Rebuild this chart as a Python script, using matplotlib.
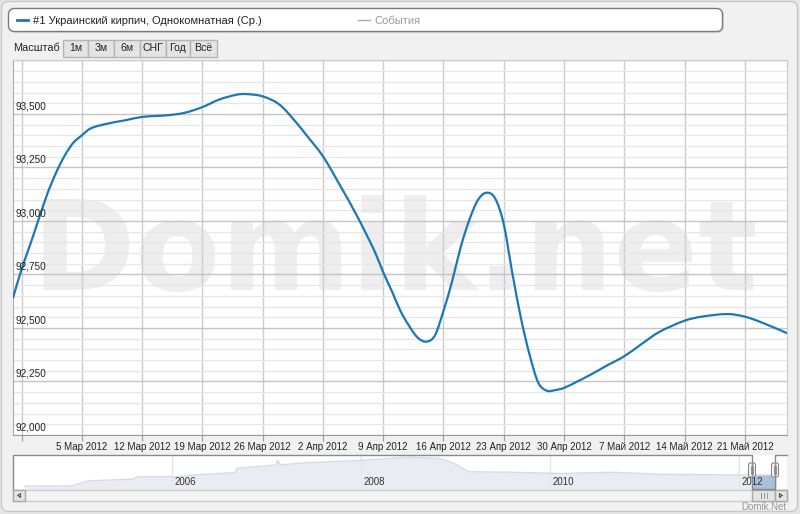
import numpy as np
import matplotlib
matplotlib.use("Agg")
import matplotlib.pyplot as plt
import matplotlib.dates as mdates
from matplotlib.patches import FancyBboxPatch, Rectangle, PathPatch
from matplotlib.path import Path
from matplotlib.ticker import MultipleLocator
from matplotlib.transforms import blended_transform_factory

plt.rcParams['font.family'] = ['Liberation Sans', 'DejaVu Sans']

# main series
dates = ["2012-02-26", "2012-02-27", "2012-02-28", "2012-02-29", "2012-03-01", "2012-03-02",
         "2012-03-03", "2012-03-04", "2012-03-05", "2012-03-06", "2012-03-08", "2012-03-10",
         "2012-03-12", "2012-03-15", "2012-03-17", "2012-03-19", "2012-03-21", "2012-03-23",
         "2012-03-24", "2012-03-26", "2012-03-28", "2012-03-30", "2012-03-31", "2012-04-02",
         "2012-04-04", "2012-04-06", "2012-04-08", "2012-04-09", "2012-04-10", "2012-04-11",
         "2012-04-12", "2012-04-13", "2012-04-14", "2012-04-15", "2012-04-16", "2012-04-17",
         "2012-04-18", "2012-04-19", "2012-04-20", "2012-04-21", "2012-04-22", "2012-04-23",
         "2012-04-24", "2012-04-25", "2012-04-26", "2012-04-27", "2012-04-28", "2012-04-29",
         "2012-04-30", "2012-05-03", "2012-05-05", "2012-05-07", "2012-05-09", "2012-05-11",
         "2012-05-14", "2012-05-16", "2012-05-19", "2012-05-21", "2012-05-23", "2012-05-26"]
prices = [92640, 92775, 92890, 93010, 93128, 93225,
          93305, 93365, 93400, 93432, 93455, 93470,
          93486, 93494, 93506, 93532, 93568, 93590,
          93593, 93582, 93542, 93455, 93405, 93302,
          93165, 93020, 92858, 92760, 92672, 92580,
          92510, 92455, 92436, 92465, 92580, 92718,
          92878, 93005, 93098, 93132, 93105, 92985,
          92755, 92545, 92375, 92245, 92207, 92210,
          92220, 92280, 92325, 92368, 92425, 92480,
          92534, 92553, 92565, 92553, 92525, 92474]

tick_dates = ["2012-02-27", "2012-03-05", "2012-03-12", "2012-03-19", "2012-03-26", "2012-04-02",
              "2012-04-09", "2012-04-16", "2012-04-23", "2012-04-30", "2012-05-07", "2012-05-14",
              "2012-05-21"]
tick_labels = ["", "5 Мар 2012", "12 Мар 2012", "19 Мар 2012", "26 Мар 2012", "2 Апр 2012",
               "9 Апр 2012", "16 Апр 2012", "23 Апр 2012", "30 Апр 2012", "7 Май 2012",
               "14 Май 2012", "21 Май 2012"]
y_ticks = [92000, 92250, 92500, 92750, 93000, 93250, 93500]

# navigator (whole history), thousands
nav_years = [2004.44, 2004.93, 2005.12, 2005.59, 2005.64, 2006.07, 2006.23, 2006.67, 2006.69,
             2007.10, 2007.12, 2007.15, 2007.42, 2007.96, 2008.50, 2008.83, 2008.98, 2009.14,
             2009.58, 2010.12, 2010.66, 2011.20, 2012.12, 2012.14, 2012.38, 2012.40]
nav_vals = [67, 67, 79, 83, 88.5, 88.5, 92.5, 98, 108,
            116, 126, 116, 121, 126, 134, 131, 120, 100,
            99, 96, 99, 94, 92.5, 92.5, 92.5, 92.5]
nav_years_ticks = [2006, 2008, 2010, 2012]
sel_from, sel_to = 2012.14, 2012.38

buttons = ["1м", "3м", "6м", "СНГ", "Год", "Всё"]
series_name = "#1 Украинский кирпич, Однокомнатная (Ср.)"


def spline_path(xs, ys):
    # smooth cubic (Hermite -> Bezier) path through the points, like a spline series
    xs = np.asarray(xs, float)
    ys = np.asarray(ys, float)
    n = len(xs)
    m = np.zeros(n)
    m[1:-1] = (ys[2:] - ys[:-2]) / (xs[2:] - xs[:-2])
    m[0] = (ys[1] - ys[0]) / (xs[1] - xs[0])
    m[-1] = (ys[-1] - ys[-2]) / (xs[-1] - xs[-2])
    verts = [(xs[0], ys[0])]
    codes = [Path.MOVETO]
    for i in range(n - 1):
        h = xs[i + 1] - xs[i]
        verts += [(xs[i] + h / 3, ys[i] + m[i] * h / 3),
                  (xs[i + 1] - h / 3, ys[i + 1] - m[i + 1] * h / 3),
                  (xs[i + 1], ys[i + 1])]
        codes += [Path.CURVE4] * 3
    return Path(verts, codes)


W, H = 800, 514
fig = plt.figure(figsize=(8, 5.14), dpi=100)
fig.patch.set_facecolor('#e6e6e6')

# background / chrome layer in pixel coordinates
bg = fig.add_axes([0, 0, 1, 1])
bg.set_xlim(0, W)
bg.set_ylim(H, 0)
bg.axis('off')
bg.add_patch(FancyBboxPatch((1.5, 1.5), 796, 510, boxstyle='round,pad=0,rounding_size=7',
                            fc='#f1f1f1', ec='#c8c8c8', lw=1))

# legend box
bg.add_patch(FancyBboxPatch((10, 10), 714, 23, boxstyle='round,pad=0,rounding_size=6',
                            fc='#d8d8d8', ec='none'))
bg.add_patch(FancyBboxPatch((8.5, 8.5), 714, 23, boxstyle='round,pad=0,rounding_size=6',
                            fc='white', ec='#7a7a7a', lw=1))
bg.plot([17, 28], [20, 20], color='#1b78b4', lw=2)
bg.text(33, 20.5, series_name, fontsize=8, color='#222222', va='center', ha='left')
bg.plot([358, 370], [20, 20], color='#aaaaaa', lw=1)
bg.text(374, 20.5, "События", fontsize=8, color='#999999', va='center', ha='left')

# range selector
bg.text(13, 48, "Масштаб", fontsize=7.8, color='#222222', va='center', ha='left')
edges = [63, 88, 114, 140, 166, 190, 217]
for i, b in enumerate(buttons):
    bg.add_patch(Rectangle((edges[i], 39.5), edges[i + 1] - edges[i], 17, fc='#e4e4e4',
                           ec='#b4b4b4', lw=1))
    bg.text((edges[i] + edges[i + 1]) / 2, 48, b, fontsize=7.6, color='#222222',
            va='center', ha='center')

# main chart
ax = fig.add_axes([13 / W, 1 - 435 / H, 774 / W, 375 / H])
ax.set_zorder(2)
xd = mdates.date2num(np.array(dates, dtype='datetime64[D]'))
ax.add_patch(PathPatch(spline_path(xd, prices), fill=False, ec='#1b78b4', lw=1.6, zorder=3))
x0 = mdates.date2num(np.datetime64("2012-02-26"))
ax.set_xlim(x0, x0 + 774 / 8.61)
ax.set_ylim(92000, 93752)
ax.yaxis.set_major_locator(MultipleLocator(250))
ax.yaxis.set_minor_locator(MultipleLocator(50))
ax.set_xticks(mdates.date2num(np.array(tick_dates, dtype='datetime64[D]')), tick_labels)
ax.grid(which='minor', axis='y', color='#e7e7e7', lw=1)
ax.grid(which='major', axis='y', color='#c4c4c4', lw=1)
ax.grid(which='major', axis='x', color='#cbcbcb', lw=1)
ax.tick_params(axis='y', which='both', left=False, labelleft=False)
ax.tick_params(axis='x', length=4, color='#999999', pad=1, labelsize=7, labelcolor='#222222')
for s in ['top', 'right']:
    ax.spines[s].set_color('#cccccc')
ax.spines['left'].set_color('#aaaaaa')
ax.spines['bottom'].set_color('#999999')
yt = blended_transform_factory(ax.transAxes, ax.transData)
for v in y_ticks:
    ax.text(0.003, v + 12, f"{v:,}", transform=yt, fontsize=7.2, color='#222222',
            ha='left', va='bottom', zorder=4)
ax.text(0.4935, 0.387, "Domik.net", transform=ax.transAxes, fontsize=90, fontweight='bold',
        family='DejaVu Sans', color='#eeeeee', ha='center', va='baseline', zorder=0)

# navigator
nav = fig.add_axes([13 / W, 1 - 489 / H, 774 / W, 34 / H])
nav.set_zorder(2)
nav.set_facecolor('white')
ny = np.array(nav_years)
nv = np.array(nav_vals)
nav.fill_between(ny, nv, 60, color='#e9edf3', lw=0)
nav.plot(ny, nv, color='#d5dbe5', lw=1)
sel = (ny >= sel_from) & (ny <= sel_to)
nav.fill_between(ny[sel], nv[sel], 60, color='#a9bfdc', lw=0)
nav.set_xlim(2004.32, 2012.51)
nav.set_ylim(60, 139)
nav.set_xticks(nav_years_ticks)
nav.grid(axis='x', color='#e6e6e6', lw=1)
nav.tick_params(length=0, labelbottom=False, labelleft=False)
for s in nav.spines.values():
    s.set_visible(False)
nt = blended_transform_factory(nav.transData, nav.transAxes)
for yr in nav_years_ticks:
    nav.text(yr + 0.03, 0.22, str(yr), transform=nt, fontsize=7, color='#333333',
             ha='left', va='center')

# navigator outline, handles and scrollbar
ol = fig.add_axes([0, 0, 1, 1])
ol.set_zorder(3)
ol.set_xlim(0, W)
ol.set_ylim(H, 0)
ol.axis('off')
ol.plot([13, 13, 752, 752, 775, 775, 787], [489, 455, 455, 489, 489, 455, 455],
        color='#8a8a8a', lw=1)
for hx in [752, 775]:
    ol.add_patch(FancyBboxPatch((hx - 3.5, 463), 7, 14, boxstyle='round,pad=0,rounding_size=2',
                                fc='#f4f4f4', ec='#8a8a8a', lw=0.8))
    ol.plot([hx - 1, hx - 1], [466, 474], color='#8a8a8a', lw=0.6)
    ol.plot([hx + 1, hx + 1], [466, 474], color='#8a8a8a', lw=0.6)
ol.add_patch(Rectangle((13, 490), 774, 11, fc='#f3f3f3', ec='#cccccc', lw=1))
ol.add_patch(Rectangle((13, 490), 12, 11, fc='#e4e4e4', ec='#a8a8a8', lw=1))
ol.add_patch(Rectangle((752, 490), 23, 11, fc='#e4e4e4', ec='#a8a8a8', lw=1))
ol.add_patch(Rectangle((775, 490), 12, 11, fc='#e4e4e4', ec='#a8a8a8', lw=1))
ol.plot([18, 20.5, 20.5, 18], [495.5, 493.5, 497.5, 495.5], color='#555555', lw=0.8)
ol.plot([782, 779.5, 779.5, 782], [495.5, 493.5, 497.5, 495.5], color='#555555', lw=0.8)
for gx in [760.5, 763.5, 766.5]:
    ol.plot([gx, gx], [493, 498], color='#888888', lw=0.6)
ol.text(786, 507, "Domik.Net", fontsize=7, color='#999999', ha='right', va='center')

fig.savefig("out.png", dpi=100, facecolor=fig.get_facecolor())
